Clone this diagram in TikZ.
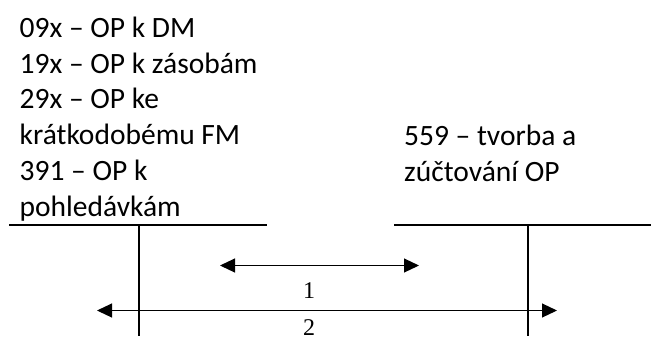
\documentclass[tikz,border=0pt]{standalone}
\usepackage{fontspec}
\setmainfont{Carlito}
\newfontfamily\numfont{Liberation Serif}
\usetikzlibrary{arrows.meta}
\tikzset{
  x=1bp, y=-1bp,
  acct/.style={inner sep=0pt, anchor=base west, align=left,
    font=\fontsize{29.5bp}{35.7bp}\selectfont},
  tline/.style={line width=1.8bp},
  flow/.style={line width=1.1bp, {Triangle[length=15bp,width=14bp]}-{Triangle[length=15bp,width=14bp]}},
  lbl/.style={inner sep=0pt, anchor=base, font=\numfont\fontsize{24bp}{29bp}\selectfont}
}
\begin{document}
\begin{tikzpicture}
\useasboundingbox (0,0) rectangle (651,336);
% texts (base anchor = baseline of the last line)
\node[acct] (lefttext) at (19.5,216) {09x – OP k DM\\19x – OP k zásobám\\29x – OP ke\\krátkodobému FM\\391 – OP k\\pohledávkám};
\node[acct] (righttext) at (404,181) {559 – tvorba a\\zúčtování OP};
% T accounts
\coordinate (lt-l) at (9,225);
\coordinate (lt-r) at (267,225);
\coordinate (lt-top) at (139,225);
\coordinate (lt-bot) at (139,336);
\coordinate (rt-l) at (394,225);
\coordinate (rt-r) at (651,225);
\coordinate (rt-top) at (528,225);
\coordinate (rt-bot) at (528,336);
\draw[tline] (lt-l) -- (lt-r);
\draw[tline] (lt-top) -- (lt-bot);
\draw[tline] (rt-l) -- (rt-r);
\draw[tline] (rt-top) -- (rt-bot);
% arrows
\coordinate (a1-l) at (220,265.5);
\coordinate (a1-r) at (419,265.5);
\coordinate (a2-l) at (97,310.5);
\coordinate (a2-r) at (557,310.5);
\draw[flow] (a1-l) -- (a1-r);
\draw[flow] (a2-l) -- (a2-r);
\node[lbl] (one) at (309,298) {1};
\node[lbl] (two) at (309,335) {2};
\end{tikzpicture}
\end{document}
